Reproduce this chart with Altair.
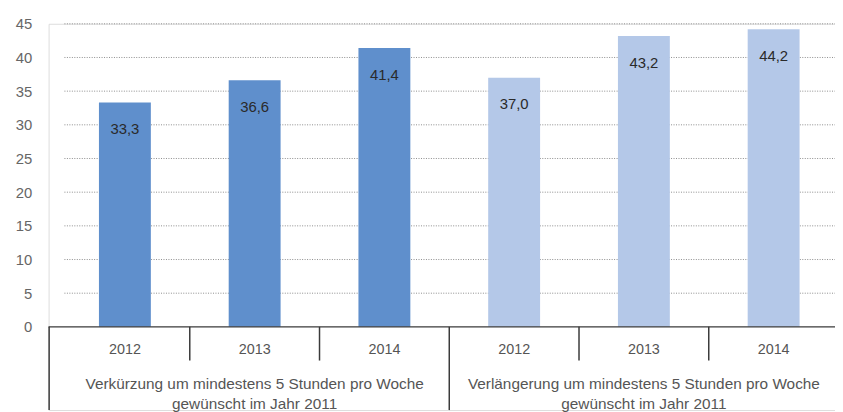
import altair as alt
import pandas as pd

# ---- data ----
years = ["2012", "2013", "2014"]
groups = [
    "Verkürzung um mindestens 5 Stunden pro Woche\ngewünscht im Jahr 2011",
    "Verlängerung um mindestens 5 Stunden pro Woche\ngewünscht im Jahr 2011",
]
values_shorter = [33.3, 36.6, 41.4]
values_longer = [37.0, 43.2, 44.2]
y_ticks = [0, 5, 10, 15, 20, 25, 30, 35, 40, 45]
bar_colors = ["#5f8fcc", "#b4c8e8"]

FONT = "Liberation Sans"

# ---- layout helpers (pixel geometry of the reference) ----
PX_PER_UNIT = 6.8           # vertical pixels per value unit
ZERO_PX = 328               # page y of value 0
def py(p):                  # page pixel y -> data y
    return (ZERO_PX - p) / PX_PER_UNIT

X_MIN, X_MAX = -0.088, 5.973
Y_MIN, Y_MAX = py(412), 45

rows = []
for g, (grp, vals) in enumerate(zip(groups, [values_shorter, values_longer])):
    for j, (yr, v) in enumerate(zip(years, vals)):
        pos = g * 3 + j
        rows.append(dict(group=grp, year=yr, value=v,
                         label=f"{v:.1f}".replace(".", ","),
                         x0=pos + 0.3, x1=pos + 0.7, xc=pos + 0.5,
                         color=bar_colors[g]))
bars_df = pd.DataFrame(rows)

xs = alt.Scale(domain=[X_MIN, X_MAX], nice=False, zero=False)
ys = alt.Scale(domain=[Y_MIN, Y_MAX], nice=False, zero=False)

# gridlines (dotted) for 5..45
grid_df = pd.DataFrame({"y": [t for t in y_ticks if t > 0]})
grid = alt.Chart(grid_df).mark_rule(color="#8c8c8c", strokeWidth=1, strokeDash=[1, 1.5]).encode(
    y=alt.Y("y:Q", scale=ys, axis=alt.Axis(values=y_ticks, grid=False, domain=False, ticks=False,
                                           labelPadding=17, labelFontSize=15, labelColor="#666666",
                                           labelFont=FONT, title=None)),
    x=alt.value((0.034 - X_MIN) / (X_MAX - X_MIN) * 794),
    x2=alt.value(794),
)

bars = alt.Chart(bars_df).mark_bar().encode(
    x=alt.X("x0:Q", scale=xs, axis=None),
    x2="x1:Q",
    y=alt.Y("value:Q", scale=ys),
    y2=alt.datum(0),
    color=alt.Color("color:N", scale=None),
)

labels = alt.Chart(bars_df).mark_text(baseline="middle", dy=27, fontSize=15, font=FONT, color="#2a2a2a").encode(
    x=alt.X("xc:Q", scale=xs),
    y=alt.Y("value:Q", scale=ys),
    text="label:N",
)

# table under the bars
axis_df = pd.DataFrame({"x": [X_MIN], "x2": [X_MAX], "y": [0]})
axis_line = alt.Chart(axis_df).mark_rule(color="#3a3a3a", strokeWidth=1.5).encode(
    x=alt.X("x:Q", scale=xs), x2="x2:Q", y=alt.Y("y:Q", scale=ys))

year_sep_df = pd.DataFrame({"x": [1, 2, 4, 5], "y": [0] * 4, "y2": [py(362)] * 4})
year_seps = alt.Chart(year_sep_df).mark_rule(color="#3a3a3a", strokeWidth=1.5).encode(
    x=alt.X("x:Q", scale=xs), y=alt.Y("y:Q", scale=ys), y2="y2:Q")

group_sep_df = pd.DataFrame({"x": [X_MIN + 0.004, 3], "y": [0, 0], "y2": [Y_MIN, Y_MIN]})
group_seps = alt.Chart(group_sep_df).mark_rule(color="#3a3a3a", strokeWidth=1.5).encode(
    x=alt.X("x:Q", scale=xs), y=alt.Y("y:Q", scale=ys), y2="y2:Q")

year_text_df = bars_df.assign(ty=py(351.5))
year_text = alt.Chart(year_text_df).mark_text(baseline="middle", fontSize=14.5, font=FONT, color="#555555").encode(
    x=alt.X("xc:Q", scale=xs), y=alt.Y("ty:Q", scale=ys), text="year:N")

group_text_df = pd.DataFrame({"group": groups, "x": [1.5, 4.5], "y": [py(378.5)] * 2})
group_text = alt.Chart(group_text_df).mark_text(baseline="top", fontSize=15.5, font=FONT, color="#555555",
                                                lineBreak="\n", lineHeight=20).encode(
    x=alt.X("x:Q", scale=xs), y=alt.Y("y:Q", scale=ys), text="group:N")

chart = alt.layer(grid, bars, labels, axis_line, year_seps, group_seps, year_text, group_text).properties(
    width=794, height=390,
    autosize=alt.AutoSizeParams(type="none"),
    padding={"left": 41, "top": 14, "right": 0, "bottom": 0},
).configure_view(stroke=None).configure(background="white")

chart.save("out.html", embed_options={"renderer": "svg", "actions": False})
